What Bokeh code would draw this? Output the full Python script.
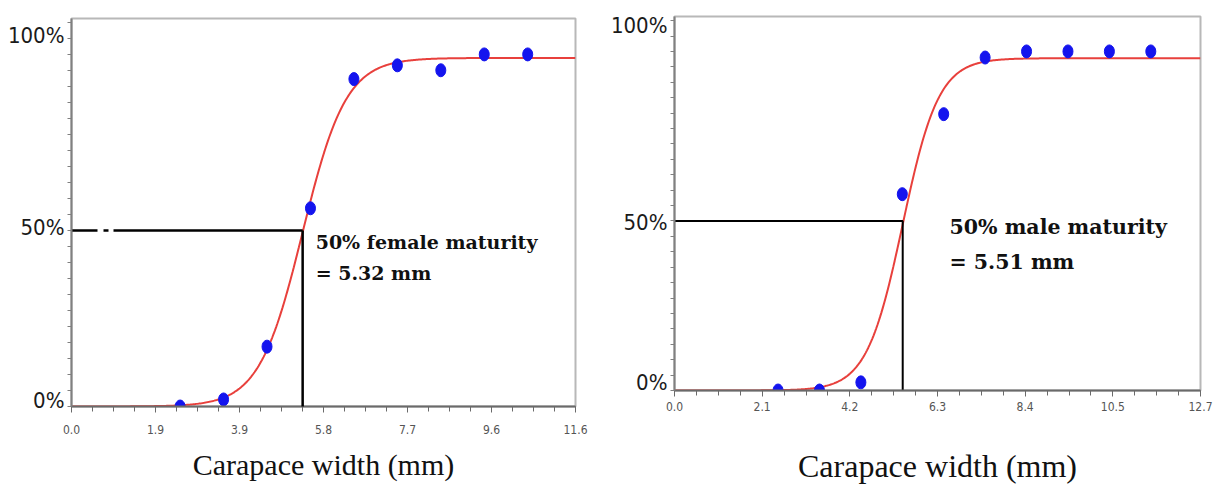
import numpy as np
from bokeh.plotting import figure
from bokeh.layouts import row
from bokeh.models import FixedTicker, Range1d, Arrow, ColumnDataSource
from bokeh.core.properties import value
from bokeh.embed import file_html
from bokeh.resources import INLINE

# ---------------- data ----------------
# Female
f_width = [2.5, 3.5, 4.5, 5.5, 6.5, 7.5, 8.5, 9.5, 10.5]
f_mature = [0.0, 0.02, 0.17, 0.563, 0.93, 0.969, 0.955, 1.0, 1.0]
f_cw50 = 5.32          # 50% maturity (mm)
f_slope = 2.0          # logistic slope
f_asym = 0.99          # upper asymptote
f_xmax = 11.6
f_xtick_labels = ["0.0", "1.9", "3.9", "5.8", "7.7", "9.6", "11.6"]

# Male
m_width = [2.5, 3.5, 4.5, 5.5, 6.5, 7.5, 8.5, 9.5, 10.5, 11.5]
m_mature = [0.0, 0.0, 0.024, 0.579, 0.815, 0.982, 1.0, 1.0, 1.0, 1.0]
m_cw50 = 5.51
m_slope = 2.3
m_asym = 0.98
m_xmax = 12.7
m_xtick_labels = ["0.0", "2.1", "4.2", "6.3", "8.4", "10.5", "12.7"]

y_tick_labels = ["0%", "50%", "100%"]

RED = "#e8403c"
BLUE = "#1414ee"
YFONT = "'Liberation Sans Narrow', 'DejaVu Sans Condensed', sans-serif"


def make_panel(width_vals, mature_vals, cw50, slope, asym, xmax, xlabels,
               ylabel_pos, yend, border_left, border_top, frame_w, frame_h,
               fig_w, fig_h, title_size, label_standoff, title_standoff):
    p = figure(width=fig_w, height=fig_h, output_backend="svg",
               toolbar_location=None, tools="",
               x_range=Range1d(0, xmax), y_range=Range1d(0, yend),
               min_border_left=border_left, min_border_top=border_top,
               min_border_right=fig_w - border_left - frame_w,
               min_border_bottom=fig_h - border_top - frame_h)
    p.frame_align = False
    p.background_fill_color = "white"
    p.border_fill_color = "white"
    p.outline_line_color = "#b8b8b8"
    p.outline_line_width = 2
    p.xgrid.visible = False
    p.ygrid.visible = False

    # x axis
    step = xmax / 6
    xa = p.xaxis[0]
    xa.ticker = FixedTicker(ticks=[i * step for i in range(7)],
                            minor_ticks=[i * step / 4 for i in range(25)])
    xa.major_label_overrides = {i * step: lab for i, lab in enumerate(xlabels)}
    xa.axis_line_color = "#6a6a6a"
    xa.axis_line_width = 2
    xa.major_tick_line_color = "#6a6a6a"
    xa.minor_tick_line_color = "#6a6a6a"
    xa.major_tick_in = 0
    xa.major_tick_out = 6
    xa.minor_tick_in = 0
    xa.minor_tick_out = 5
    xa.major_label_text_font = YFONT
    xa.major_label_text_font_size = "12px"
    xa.major_label_text_color = "#555555"
    xa.major_label_standoff = label_standoff
    xa.axis_label = "Carapace width (mm)"
    xa.axis_label_text_font = "Liberation Serif"
    xa.axis_label_text_font_style = "normal"
    xa.axis_label_text_font_size = f"{title_size}px"
    xa.axis_label_text_color = "#111111"
    xa.axis_label_standoff = title_standoff

    # y axis
    ya = p.yaxis[0]
    ya.ticker = FixedTicker(ticks=ylabel_pos,
                            minor_ticks=[i * 0.5 / 11 for i in range(25)])
    ya.major_label_overrides = {pos: lab for pos, lab in zip(ylabel_pos, y_tick_labels)}
    ya.axis_line_color = "#808080"
    ya.axis_line_width = 2
    ya.major_tick_line_color = None
    ya.minor_tick_line_color = "#808080"
    ya.minor_tick_in = 0
    ya.minor_tick_out = 4
    ya.major_tick_out = 4
    ya.major_tick_in = 0
    ya.major_label_standoff = 3
    ya.major_label_text_font = YFONT
    ya.major_label_text_font_size = "22px"
    ya.major_label_text_color = "#1a1a1a"

    # fitted logistic curve
    xs = np.linspace(0, xmax, 400)
    ys = asym / (1 + np.exp(-slope * (xs - cw50)))
    p.line(xs, ys, line_color=RED, line_width=2)

    # observed points
    src = ColumnDataSource(dict(x=width_vals, y=mature_vals))
    p.ellipse(x="x", y="y", width=10, height=13, width_units="screen",
              height_units="screen", source=src, fill_color=BLUE,
              line_color=BLUE, line_width=1)
    return p


# ---------------- female (left) ----------------
p1 = make_panel(f_width, f_mature, f_cw50, f_slope, f_asym, f_xmax, f_xtick_labels,
                ylabel_pos=[0.017, 0.509, 1.054], yend=1.102,
                border_left=71, border_top=18, frame_w=504, frame_h=388,
                fig_w=604, fig_h=486, title_size=30, label_standoff=12,
                title_standoff=11)
p1.line([0, f_cw50], [0.5, 0.5], line_color="black", line_width=2.5,
        line_dash="26 6 5 5 1000 1")
p1.add_layout(Arrow(end=None, x_start=f_cw50, y_start=0.5, x_end=f_cw50,
                    y_end=-0.043, line_color="black", line_width=2.5))
p1.text(x=[f_cw50 + 0.3], y=[0.466], text=["50% female maturity"],
        text_font=value("DejaVu Serif"), text_font_style="bold",
        text_font_size="19px", text_color="#111111", text_baseline="alphabetic")
p1.text(x=[f_cw50 + 0.3], y=[0.378], text=["= 5.32 mm"],
        text_font=value("DejaVu Serif"), text_font_style="bold",
        text_font_size="19px", text_color="#111111", text_baseline="alphabetic")

# ---------------- male (right) ----------------
p2 = make_panel(m_width, m_mature, m_cw50, m_slope, m_asym, m_xmax, m_xtick_labels,
                ylabel_pos=[0.024, 0.494, 1.076], yend=1.103,
                border_left=70, border_top=16, frame_w=526, frame_h=375,
                fig_w=612, fig_h=486, title_size=32, label_standoff=5,
                title_standoff=34)
p2.line([0, m_cw50, m_cw50], [0.5, 0.5, 0.0], line_color="black", line_width=2)
p2.text(x=[m_cw50 + 1.13], y=[0.482], text=["50% male maturity"],
        text_font=value("DejaVu Serif"), text_font_style="bold",
        text_font_size="20.5px", text_color="#111111", text_baseline="alphabetic")
p2.text(x=[m_cw50 + 1.13], y=[0.379], text=["= 5.51 mm"],
        text_font=value("DejaVu Serif"), text_font_style="bold",
        text_font_size="20.5px", text_color="#111111", text_baseline="alphabetic")

layout = row(p1, p2)
open("out.html", "w").write(file_html(layout, INLINE))
